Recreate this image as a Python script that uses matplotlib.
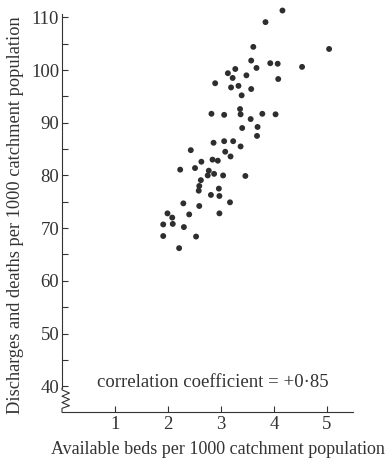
import numpy as np
import matplotlib.pyplot as plt

# beds per 1000 vs discharges+deaths per 1000
beds = [4.16, 3.84, 5.04, 3.61, 3.57, 3.93, 4.07, 4.53, 3.67, 3.27,
        3.13, 3.48, 3.22, 4.08, 2.89, 3.33, 3.19, 3.57, 3.39, 3.36,
        2.82, 3.06, 3.37, 3.78, 4.03, 3.56, 3.69, 3.40, 3.68, 2.86,
        3.06, 3.23, 3.37, 2.43, 3.08, 3.18, 2.84, 2.94, 2.63, 2.51,
        2.23, 2.77, 2.87, 2.75, 3.04, 3.46, 2.62, 2.59, 2.58, 2.96,
        2.81, 2.97, 2.29, 3.17, 2.59, 2.40, 2.97, 1.99, 2.08, 1.91,
        2.09, 2.30, 1.91, 2.53, 2.21]
discharges = [111.3, 109.1, 104.0, 104.4, 101.8, 101.3, 101.2, 100.6, 100.4, 100.2,
              99.4, 99.0, 98.5, 98.3, 97.5, 97.0, 96.7, 96.4, 95.2, 92.6,
              91.7, 91.5, 91.6, 91.7, 91.6, 90.7, 89.2, 89.0, 87.5, 86.2,
              86.5, 86.5, 85.5, 84.8, 84.5, 83.6, 83.0, 82.8, 82.6, 81.4,
              81.1, 80.9, 80.3, 80.0, 80.0, 79.9, 79.1, 78.0, 77.1, 77.5,
              76.3, 76.1, 74.7, 74.9, 74.2, 72.6, 72.8, 72.8, 72.0, 70.7,
              70.8, 70.2, 68.5, 68.4, 66.2]

xticks = [1, 2, 3, 4, 5]
yticks = [40, 50, 60, 70, 80, 90, 100, 110]
corr_text = "correlation coefficient = +0\u00b785"

plt.rcParams['font.family'] = ['Liberation Serif', 'DejaVu Serif']

fig = plt.figure(figsize=(3.91, 4.58), dpi=100)
ax = fig.add_axes([0.1586, 0.1004, 0.7454, 0.8847])

ax.scatter(beds, discharges, s=18, color='#2e2e2e', edgecolors='none', zorder=3)

ax.set_xlim(0, 5.5)
ax.set_ylim(35.1, 112)

ax.spines['top'].set_visible(False)
ax.spines['right'].set_visible(False)
ax.spines['left'].set_bounds(39.6, 110.6)
for s in ['left', 'bottom']:
    ax.spines[s].set_linewidth(0.8)
    ax.spines[s].set_color('#333333')

# axis break zigzag on the y axis
zx = [0, 0, 0.14, 0, 0.14, 0, 0.14, 0, 0]
zy = [39.6, 39.3, 38.7, 38.1, 37.5, 36.9, 36.3, 35.8, 35.1]
ax.plot(zx, zy, color='#333333', lw=0.8, clip_on=False)

ax.set_xticks(xticks)
ax.set_xticklabels([str(t) for t in xticks])
ax.set_yticks(yticks)
ax.set_yticks(np.arange(45, 110, 10), minor=True)
ax.tick_params(axis='both', which='both', direction='in', length=4.5, width=0.8,
               colors='#333333', labelsize=13.5, labelcolor='#333333')
ax.tick_params(axis='y', pad=2)
ax.tick_params(axis='x', pad=3)

ax.set_xlabel("Available beds per 1000 catchment population", fontsize=13,
              color='#333333', va='center')
ax.xaxis.set_label_coords(0.535, -0.092)
ax.set_ylabel("Discharges and deaths per 1000 catchment population", fontsize=13.2,
              color='#333333', va='center')
ax.yaxis.set_label_coords(-0.158, 0.487)

ax.text(0.66, 40.7, corr_text, fontsize=13.5, color='#333333', va='center', ha='left')

fig.savefig("out.png", dpi=100)
